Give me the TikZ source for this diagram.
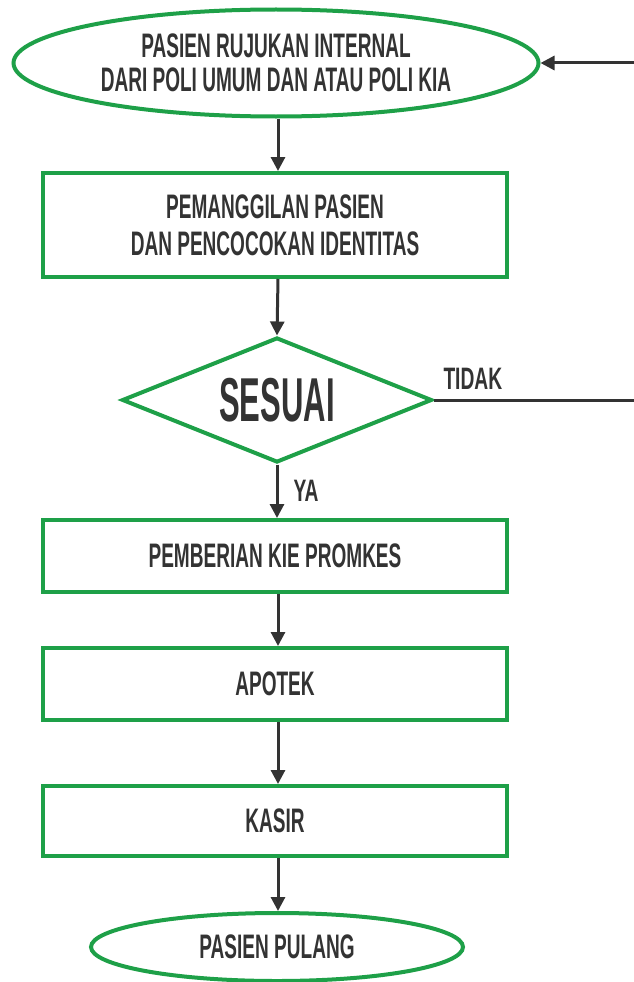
\documentclass[tikz,border=0pt]{standalone}
\usepackage{fontspec}
\newfontfamily\condf[FakeStretch=0.56]{Liberation Sans}
\newfontfamily\lblf[FakeStretch=0.62]{Liberation Sans}
\newfontfamily\bigf[FakeStretch=0.5]{Liberation Sans}
\usetikzlibrary{shapes.geometric,arrows.meta}
\definecolor{flowgreen}{RGB}{30,160,72}
\definecolor{ink}{RGB}{51,51,51}
\begin{document}
\begin{tikzpicture}[x=1pt,y=-1pt,
  every node/.style={text=ink,font=\condf\bfseries\fontsize{34}{37}\selectfont,align=center,inner sep=0pt},
  term/.style={ellipse,draw=flowgreen,line width=4pt,fill=white},
  procbox/.style={rectangle,draw=flowgreen,line width=4pt,fill=white,minimum width=464pt},
  decide/.style={diamond,draw=flowgreen,line width=4pt,fill=white,aspect=2.48,minimum width=310pt,minimum height=125pt},
  flow/.style={draw=ink,line width=3pt,-{Triangle[length=14pt,width=14pt]}},
  plain/.style={draw=ink,line width=3pt},
  lbl/.style={font=\lblf\bfseries\fontsize{31}{34}\selectfont}]
\useasboundingbox (0,0) rectangle (634,982);
\node[term,minimum width=525pt,minimum height=107pt,font=\condf\bfseries\fontsize{34}{34}\selectfont] (start) at (276,63) {PASIEN RUJUKAN INTERNAL\\DARI POLI UMUM DAN ATAU POLI KIA};
\node[procbox,minimum height=104pt] (call) at (275,225) {PEMANGGILAN PASIEN\\DAN PENCOCOKAN IDENTITAS};
\node[decide] (check) at (277,400) {\bigf\bfseries\fontsize{62}{64}\selectfont SESUAI};
\node[procbox,minimum height=72pt] (kie) at (275,556) {PEMBERIAN KIE PROMKES};
\node[procbox,minimum height=72pt] (apotek) at (275,684) {APOTEK};
\node[procbox,minimum height=70pt] (kasir) at (275,821) {KASIR};
\node[term,minimum width=372pt,minimum height=68pt] (end) at (277,947) {PASIEN PULANG};
\coordinate (rtop) at (634,63);
\coordinate (rmid) at (634,400);
\draw[flow] (start.south -| 278,0) -- (call.north -| 278,0);
\draw[flow] (call.south -| 278,0) -- (check.north);
\draw[flow] (check.south) -- (kie.north -| check.south) node[lbl,pos=0.5,right=15pt] {YA};
\draw[flow] (kie.south -| 278,0) -- (apotek.north -| 278,0);
\draw[flow] (apotek.south -| 278,0) -- (kasir.north -| 278,0);
\draw[flow] (kasir.south -| 278,0) -- (end.north -| 278,0);
\draw[plain] (check.east) -- (rmid) node[lbl,pos=0,anchor=south west,xshift=8pt,yshift=9pt] {TIDAK};
\draw[flow] (rtop) -- (start.east);
\end{tikzpicture}
\end{document}
